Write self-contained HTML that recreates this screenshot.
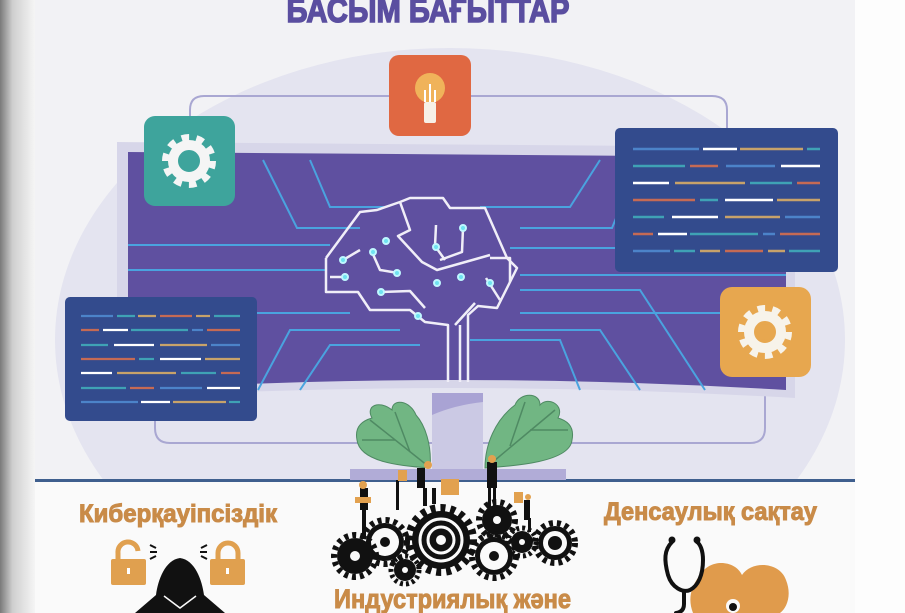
<!DOCTYPE html>
<html><head><meta charset="utf-8"><style>
html,body{margin:0;padding:0;width:905px;height:613px;overflow:hidden;background:#fff}
svg{display:block}
text{font-family:"Liberation Sans Narrow","Liberation Sans",sans-serif;font-weight:bold}
</style></head><body>
<svg width="905" height="613" viewBox="0 0 905 613" xmlns="http://www.w3.org/2000/svg">
<defs>
<linearGradient id="lg" x1="0" x2="1" y1="0" y2="0">
<stop offset="0" stop-color="#7a7a7a"/><stop offset="0.35" stop-color="#cfcfcf"/><stop offset="1" stop-color="#f7f7f7"/>
</linearGradient>
<clipPath id="pg"><rect x="35" y="0" width="820" height="481"/></clipPath>
</defs>
<rect x="0" y="0" width="905" height="613" fill="#fdfdfd"/>
<rect x="0" y="0" width="36" height="613" fill="url(#lg)"/>
<rect x="35" y="0" width="820" height="481" fill="#f2f2f5"/>
<ellipse cx="450" cy="340" rx="395" ry="292" fill="#e4e4f0" clip-path="url(#pg)"/>
<rect x="35" y="481" width="820" height="132" fill="#fafafa"/>
<rect x="35" y="479" width="820" height="3" fill="#3f5f8e"/>

<text x="428" y="22" text-anchor="middle" font-size="34" fill="#5a4ea0" stroke="#5a4ea0" stroke-width="1.5" textLength="283" lengthAdjust="spacingAndGlyphs">БАСЫМ БАҒЫТТАР</text>

<path d="M190 150 V110 Q190 96 204 96 H712 Q727 96 727 110 V135" fill="none" stroke="#a9a7d2" stroke-width="2"/>
<path d="M155 415 V428 Q155 443 170 443 H750 Q765 443 765 428 V375" fill="none" stroke="#a9a7d2" stroke-width="2"/>

<path d="M117 142 L795 147 L795 398 Q450 378 117 398 Z" fill="#d7d6e9"/>
<path d="M128 152 L786 157 L786 390 Q450 370 128 390 Z" fill="#5f50a0"/>
<rect x="432" y="393" width="51" height="78" fill="#cbc9e4"/>
<path d="M432 393 H483 V402 Q455 405 432 415 Z" fill="#a9a3d4"/>
<rect x="350" y="469" width="216" height="11" fill="#b1acd7"/>

<g fill="none" stroke="#4aa3df" stroke-width="2">
<path d="M263 160 L297 228 H360"/><path d="M310 160 L330 207 H385"/>
<path d="M600 160 L570 207 H480"/><path d="M640 160 L612 228 H520"/>
<path d="M128 245 H330"/><path d="M128 270 H325"/><path d="M510 248 H786"/><path d="M520 275 H786"/>
<path d="M128 313 H350"/><path d="M520 313 H786"/>
<path d="M258 390 L290 330 H400"/><path d="M300 390 L330 345 H420"/>
<path d="M580 390 L560 340 H470"/><path d="M640 390 L600 330 H510"/>
<path d="M705 390 L640 290 H520"/>
</g>

<g fill="none" stroke="#f0eef8" stroke-width="2.5" stroke-linejoin="round">
<path d="M326 258 L360 212 L377 210 L400 202 L410 198 L443 198 L450 208 L485 208 L507 258 L517 268 L497 308 L478 306 L468 315 L468 382"/>
<path d="M326 258 V292 L358 292 L370 310 L410 310 L425 322 L448 325 V382"/>
<path d="M460 325 V382"/><path d="M455 325 L475 303"/>
<path d="M400 202 L410 230 L398 236 L422 262 L437 270 L490 255"/>
<path d="M436 225 L435 246 L445 260"/>
<path d="M463 228 L462 252 L440 260"/>
<path d="M343 260 L360 250"/><path d="M330 277 L345 277"/>
<path d="M372 252 L380 270 L398 273"/>
<path d="M380 292 L410 291 L425 308"/>
<path d="M486 278 L500 300"/>
<path d="M490 258 L510 258 L510 282"/>
</g>
<g fill="#6fe3f0" stroke="#bff7ff" stroke-width="2">
<circle cx="343" cy="260" r="3"/><circle cx="345" cy="277" r="3"/><circle cx="386" cy="241" r="3"/><circle cx="373" cy="252" r="3"/>
<circle cx="397" cy="273" r="3"/><circle cx="381" cy="292" r="3"/><circle cx="436" cy="247" r="3"/><circle cx="463" cy="228" r="3"/>
<circle cx="437" cy="283" r="3"/><circle cx="461" cy="277" r="3"/><circle cx="490" cy="283" r="3"/><circle cx="418" cy="316" r="3"/>
</g>

<rect x="389" y="55" width="82" height="81" rx="10" fill="#e06842"/>
<circle cx="430" cy="88" r="15" fill="#f0b35a"/>
<rect x="424" y="102" width="12" height="21" rx="2" fill="#f7f0e6"/>
<path d="M425 102 V90 M430 102 V84 M435 102 V90" stroke="#fff" stroke-width="2"/>

<rect x="144" y="116" width="91" height="90" rx="11" fill="#3ea49c"/>
<g transform="translate(189,161)">
<circle r="22" fill="none" stroke="#f5f5f5" stroke-width="10" stroke-dasharray="7 6.8"/>
<circle r="16" fill="none" stroke="#f5f5f5" stroke-width="10"/>
<circle r="8" fill="#3ea49c"/>
</g>
<rect x="720" y="287" width="91" height="90" rx="12" fill="#e7a74f"/>
<g transform="translate(765,332)">
<circle r="22" fill="none" stroke="#f7f3ea" stroke-width="10" stroke-dasharray="7 6.8"/>
<circle r="16" fill="none" stroke="#f7f3ea" stroke-width="10"/>
<circle r="8" fill="#e7a74f"/>
</g>

<rect x="615" y="128" width="223" height="144" rx="5" fill="#334b8d"/>
<g stroke-width="2.5">
<path d="M633 149 H699" stroke="#4c83c9"/><path d="M703 149 H737" stroke="#fff"/><path d="M740 149 H803" stroke="#c7a26a"/><path d="M807 149 H820" stroke="#3fa2b5"/>
<path d="M633 166 H685" stroke="#3fa2b5"/><path d="M690 166 H718" stroke="#c56a54"/><path d="M726 166 H775" stroke="#4c83c9"/><path d="M781 166 H820" stroke="#fff"/>
<path d="M633 183 H669" stroke="#fff"/><path d="M675 183 H745" stroke="#c7a26a"/><path d="M750 183 H792" stroke="#3fa2b5"/><path d="M797 183 H820" stroke="#c56a54"/>
<path d="M633 200 H695" stroke="#c56a54"/><path d="M700 200 H718" stroke="#3fa2b5"/><path d="M725 200 H773" stroke="#fff"/><path d="M777 200 H820" stroke="#c7a26a"/>
<path d="M633 217 H664" stroke="#3fa2b5"/><path d="M672 217 H718" stroke="#fff"/><path d="M725 217 H780" stroke="#c7a26a"/><path d="M785 217 H820" stroke="#4c83c9"/>
<path d="M633 234 H653" stroke="#c56a54"/><path d="M658 234 H687" stroke="#fff"/><path d="M690 234 H758" stroke="#3fa2b5"/><path d="M763 234 H775" stroke="#4c83c9"/><path d="M780 234 H820" stroke="#c56a54"/>
<path d="M633 251 H670" stroke="#4c83c9"/><path d="M674 251 H695" stroke="#3fa2b5"/><path d="M700 251 H720" stroke="#c7a26a"/><path d="M725 251 H763" stroke="#c56a54"/><path d="M768 251 H785" stroke="#c7a26a"/><path d="M789 251 H820" stroke="#3fa2b5"/>
</g>
<rect x="65" y="297" width="192" height="124" rx="5" fill="#334b8d"/>
<g stroke-width="2.2">
<path d="M81 316 H113" stroke="#4c83c9"/><path d="M117 316 H135" stroke="#3fa2b5"/><path d="M138 316 H156" stroke="#c7a26a"/><path d="M160 316 H192" stroke="#c56a54"/><path d="M196 316 H210" stroke="#c7a26a"/><path d="M214 316 H240" stroke="#3fa2b5"/>
<path d="M81 330 H99" stroke="#c56a54"/><path d="M103 330 H128" stroke="#fff"/><path d="M131 330 H188" stroke="#3fa2b5"/><path d="M192 330 H203" stroke="#4c83c9"/><path d="M207 330 H240" stroke="#c56a54"/>
<path d="M81 345 H108" stroke="#3fa2b5"/><path d="M114 345 H154" stroke="#fff"/><path d="M160 345 H207" stroke="#c7a26a"/><path d="M211 345 H240" stroke="#4c83c9"/>
<path d="M81 359 H135" stroke="#c56a54"/><path d="M139 359 H154" stroke="#3fa2b5"/><path d="M160 359 H201" stroke="#fff"/><path d="M205 359 H240" stroke="#c7a26a"/>
<path d="M81 373 H112" stroke="#fff"/><path d="M117 373 H176" stroke="#c7a26a"/><path d="M181 373 H216" stroke="#3fa2b5"/><path d="M221 373 H240" stroke="#c56a54"/>
<path d="M81 388 H126" stroke="#3fa2b5"/><path d="M130 388 H154" stroke="#c56a54"/><path d="M160 388 H202" stroke="#4c83c9"/><path d="M207 388 H240" stroke="#fff"/>
<path d="M81 402 H138" stroke="#4c83c9"/><path d="M141 402 H170" stroke="#fff"/><path d="M173 402 H226" stroke="#c7a26a"/><path d="M229 402 H240" stroke="#3fa2b5"/>
</g>

<g fill="#71b683" stroke="#4f8a63" stroke-width="1">
<path d="M430 468 C400 466 360 462 357 440 C354 425 365 420 372 418 C365 405 380 400 392 410 C392 398 410 400 416 415 C425 425 432 445 430 468 Z"/>
<path d="M485 468 C515 466 570 462 572 440 C575 425 565 420 558 418 C565 405 548 396 540 405 C540 392 520 392 515 405 C495 420 485 445 485 468 Z"/>
</g>
<g stroke="#4f8a63" stroke-width="1.5" fill="none">
<path d="M428 466 L370 420"/><path d="M410 452 L395 412"/><path d="M395 440 L362 440"/>
<path d="M488 466 L555 410"/><path d="M510 446 L525 402"/><path d="M530 430 L568 430"/>
</g>

<g fill="#111">
<rect x="417" y="468" width="8" height="20"/><rect x="423" y="488" width="4" height="18"/><rect x="432" y="488" width="4" height="16"/>
<rect x="487" y="462" width="10" height="26"/><rect x="488" y="488" width="3" height="22"/><rect x="493" y="488" width="3" height="22"/>
<rect x="360" y="488" width="8" height="22"/><rect x="362" y="510" width="4" height="28"/>
<rect x="396" y="480" width="3" height="30"/><rect x="524" y="500" width="6" height="20"/><rect x="528" y="518" width="3" height="14"/>
</g>
<g fill="#e2a14f">
<circle cx="428" cy="465" r="4"/><circle cx="492" cy="459" r="4"/><circle cx="363" cy="485" r="4"/><circle cx="528" cy="497" r="3"/>
<rect x="441" y="479" width="18" height="16"/><rect x="398" y="470" width="9" height="11"/><rect x="514" y="492" width="9" height="11"/><rect x="355" y="497" width="16" height="6"/>
</g>

<g>
<g transform="translate(441,540)"><circle r="32" fill="none" stroke="#111" stroke-width="8" stroke-dasharray="5 5"/><circle r="29" fill="#111"/><circle r="21" fill="none" stroke="#fafafa" stroke-width="3"/><circle r="13" fill="none" stroke="#fafafa" stroke-width="3"/><circle r="5" fill="#fafafa"/></g>
<g transform="translate(385,542)"><circle r="22" fill="none" stroke="#111" stroke-width="6" stroke-dasharray="4 4"/><circle r="19" fill="#111"/><circle r="14" fill="#fafafa"/><circle r="5" fill="#111"/></g>
<g transform="translate(355,556)"><circle r="21" fill="none" stroke="#111" stroke-width="6" stroke-dasharray="4 4"/><circle r="18" fill="#111"/><circle r="5" fill="#fafafa"/></g>
<g transform="translate(405,570)"><circle r="14" fill="none" stroke="#111" stroke-width="5" stroke-dasharray="3 3"/><circle r="11" fill="#111"/><circle r="3" fill="#fafafa"/></g>
<g transform="translate(497,520)"><circle r="18" fill="none" stroke="#111" stroke-width="6" stroke-dasharray="4 4"/><circle r="15" fill="#111"/><circle r="4" fill="#fafafa"/></g>
<g transform="translate(494,556)"><circle r="22" fill="none" stroke="#111" stroke-width="6" stroke-dasharray="4 4"/><circle r="19" fill="#111"/><circle r="14" fill="#fafafa"/><circle r="5" fill="#111"/></g>
<g transform="translate(522,542)"><circle r="14" fill="none" stroke="#111" stroke-width="5" stroke-dasharray="3 3"/><circle r="11" fill="#111"/><circle r="3" fill="#fafafa"/></g>
<g transform="translate(555,543)"><circle r="20" fill="none" stroke="#111" stroke-width="6" stroke-dasharray="4 4"/><circle r="17" fill="#111"/><circle r="12" fill="#fafafa"/><circle r="7" fill="#111"/></g>
</g>

<text x="79" y="522" font-size="25" fill="#c98b48" stroke="#c98b48" stroke-width="1" textLength="198" lengthAdjust="spacingAndGlyphs">Киберқауіпсіздік</text>
<text x="604" y="520" font-size="25" fill="#c98b48" stroke="#c98b48" stroke-width="1" textLength="213" lengthAdjust="spacingAndGlyphs">Денсаулық сақтау</text>
<text x="334" y="608" font-size="27" fill="#c98b48" stroke="#c98b48" stroke-width="1" textLength="237" lengthAdjust="spacingAndGlyphs">Индустриялық және</text>

<g fill="none" stroke="#e0a04f" stroke-width="5"><path d="M118 560 V553 A10 10 0 0 1 138 551"/><path d="M218 560 V553 A10 10 0 0 1 238 553 V560"/></g>
<rect x="111" y="559" width="35" height="26" rx="2" fill="#e0a04f"/>
<rect x="210" y="559" width="35" height="26" rx="2" fill="#e0a04f"/>
<rect x="127" y="568" width="3" height="6" fill="#fff"/><rect x="226" y="568" width="3" height="6" fill="#fff"/>
<g stroke="#111" stroke-width="2"><path d="M150 545 L156 548 M150 552 H157 M150 559 L156 556"/><path d="M207 545 L201 548 M207 552 H200 M207 559 L201 556"/></g>
<path d="M180 558 C165 560 158 580 156 595 L135 613 H225 L204 595 C202 580 195 560 180 558 Z" fill="#111"/>
<path d="M164 596 L180 608 L196 596" fill="none" stroke="#fafafa" stroke-width="1.5"/>

<path d="M700 575 C710 558 735 560 742 575 C752 560 780 562 786 580 C792 595 787 608 780 613 H693 C688 600 690 588 700 575 Z" fill="#e09b4c"/>
<circle cx="733" cy="606" r="7" fill="#fafafa"/><circle cx="733" cy="607" r="4" fill="#111"/>
<g fill="none" stroke="#111" stroke-width="4" stroke-linecap="round">
<path d="M672 542 C664 550 664 560 668 575 C672 588 683 593 690 590 C698 586 703 575 703 560 C703 550 700 544 697 542"/>
<path d="M684 592 V604 Q684 612 676 613"/>
</g>
<circle cx="672" cy="540" r="3.5" fill="#111"/><circle cx="697" cy="540" r="3.5" fill="#111"/>
</svg>
</body></html>
